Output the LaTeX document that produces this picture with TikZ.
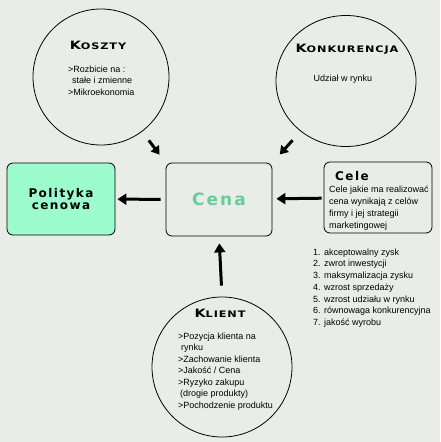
\documentclass[tikz,border=0pt]{standalone}
\usepackage{fontspec}
\setmainfont{Liberation Sans}
\newfontfamily\headfont[LetterSpace=12]{DejaVu Sans Bold}
\newfontfamily\capsfont[FakeStretch=1.25, LetterSpace=10]{DejaVu Sans Bold}
\usetikzlibrary{shapes.geometric, arrows.meta, positioning}
\definecolor{pagegray}{RGB}{233, 237, 231}
\definecolor{mintgreen}{RGB}{156, 252, 206}
\definecolor{cenagreen}{RGB}{102, 204, 153}
\newcommand{\capstitle}[2]{{\capsfont\fontsize{11.5}{11.5}\selectfont #1\fontsize{9}{9}\selectfont #2}}

\begin{document}
\begin{tikzpicture}[x=1pt, y=-1pt,
  factor/.style={draw, line width=0.8pt, inner sep=0pt},
  box/.style={draw, line width=0.8pt, rounded corners=6pt, inner sep=0pt},
  body/.style={font=\fontsize{9}{11.5}\selectfont, align=left, inner sep=0pt},
  bigarrow/.style={line width=3pt, -{Triangle[length=9pt, width=11pt]}},
  smallarrow/.style={line width=3pt, -{Triangle[length=8pt, width=10pt]}}]
  % Background
  \fill[pagegray] (0,0) rectangle (440,442);
  \useasboundingbox (0,0) rectangle (440,442);

  % Central boxes
  \node[box, fill=mintgreen, minimum width=108pt, minimum height=72pt,
        font=\headfont\fontsize{12}{12}\selectfont, align=center] (polityka) at (61,199) {Polityka\\cenowa};
  \node[box, minimum width=106pt, minimum height=73pt,
        font=\headfont\fontsize{17}{17}\selectfont, text=cenagreen] (cena) at (219,199.5) {Cena};
  \node[box, minimum width=108pt, minimum height=71pt] (cele) at (378,197.5) {};

  % Cele text
  \node[anchor=west, inner sep=0pt, font=\headfont\fontsize{12}{12}\selectfont] (celetitle) at (335,176) {Cele};
  \node[body, anchor=north west, font=\fontsize{9}{12}\selectfont] (celetext) at (329,185.5)
    {Cele jakie ma realizować\\cena wynikają z celów\\firmy i jej strategii\\marketingowej};

  % Goals list
  \node[body, anchor=north west, font=\fontsize{9}{11.7}\selectfont] (celelist) at (313,248.5)
    {1. akceptowalny zysk\\2. zwrot inwestycji\\3. maksymalizacja zysku\\4. wzrost sprzedaży\\5. wzrost udziału w rynku\\6. równowaga konkurencyjna\\7. jakość wyrobu};

  % Koszty
  \node[factor, circle, minimum size=136pt] (koszty) at (101,77) {};
  \node (kosztytitle) at (98,45) {\capstitle{K}{OSZTY}};
  \node[body, anchor=north west] (kosztytext) at (68,65.5)
    {>Rozbicie na :\\\hspace{4pt}stałe i zmienne\\>Mikroekonomia};

  % Konkurencja
  \node[factor, ellipse, minimum width=140pt, minimum height=131pt] (konkurencja) at (346,81) {};
  \node (konkurencjatitle) at (347,49) {\capstitle{K}{ONKURENCJA}};
  \node[body] (konkurencjatext) at (343,79) {Udział w rynku};

  % Klient
  \node[factor, circle, minimum size=140pt] (klient) at (222,367) {};
  \node (klienttitle) at (220,313) {\capstitle{K}{LIENT}};
  \node[body, anchor=north west] (klienttext) at (178,332.5)
    {>Pozycja klienta na\\\hspace{3pt}rynku\\>Zachowanie klienta\\>Jakość / Cena\\>Ryzyko zakupu\\\hspace{2pt}(drogie produkty)\\>Pochodzenie produktu};

  % Arrows
  \draw[bigarrow, shorten <=5pt, shorten >=2pt] (cena) -- (polityka);
  \draw[bigarrow, shorten <=2pt, shorten >=4pt] (cele) -- (cena);
  \draw[bigarrow, shorten <=11pt, shorten >=7pt] (klient.north) -- (cena.south);
  \draw[smallarrow, shorten <=11pt, shorten >=10pt] (koszty) -- (cena.north west);
  \draw[smallarrow, shorten <=12pt, shorten >=11pt] (konkurencja) -- (cena.north east);
\end{tikzpicture}
\end{document}
